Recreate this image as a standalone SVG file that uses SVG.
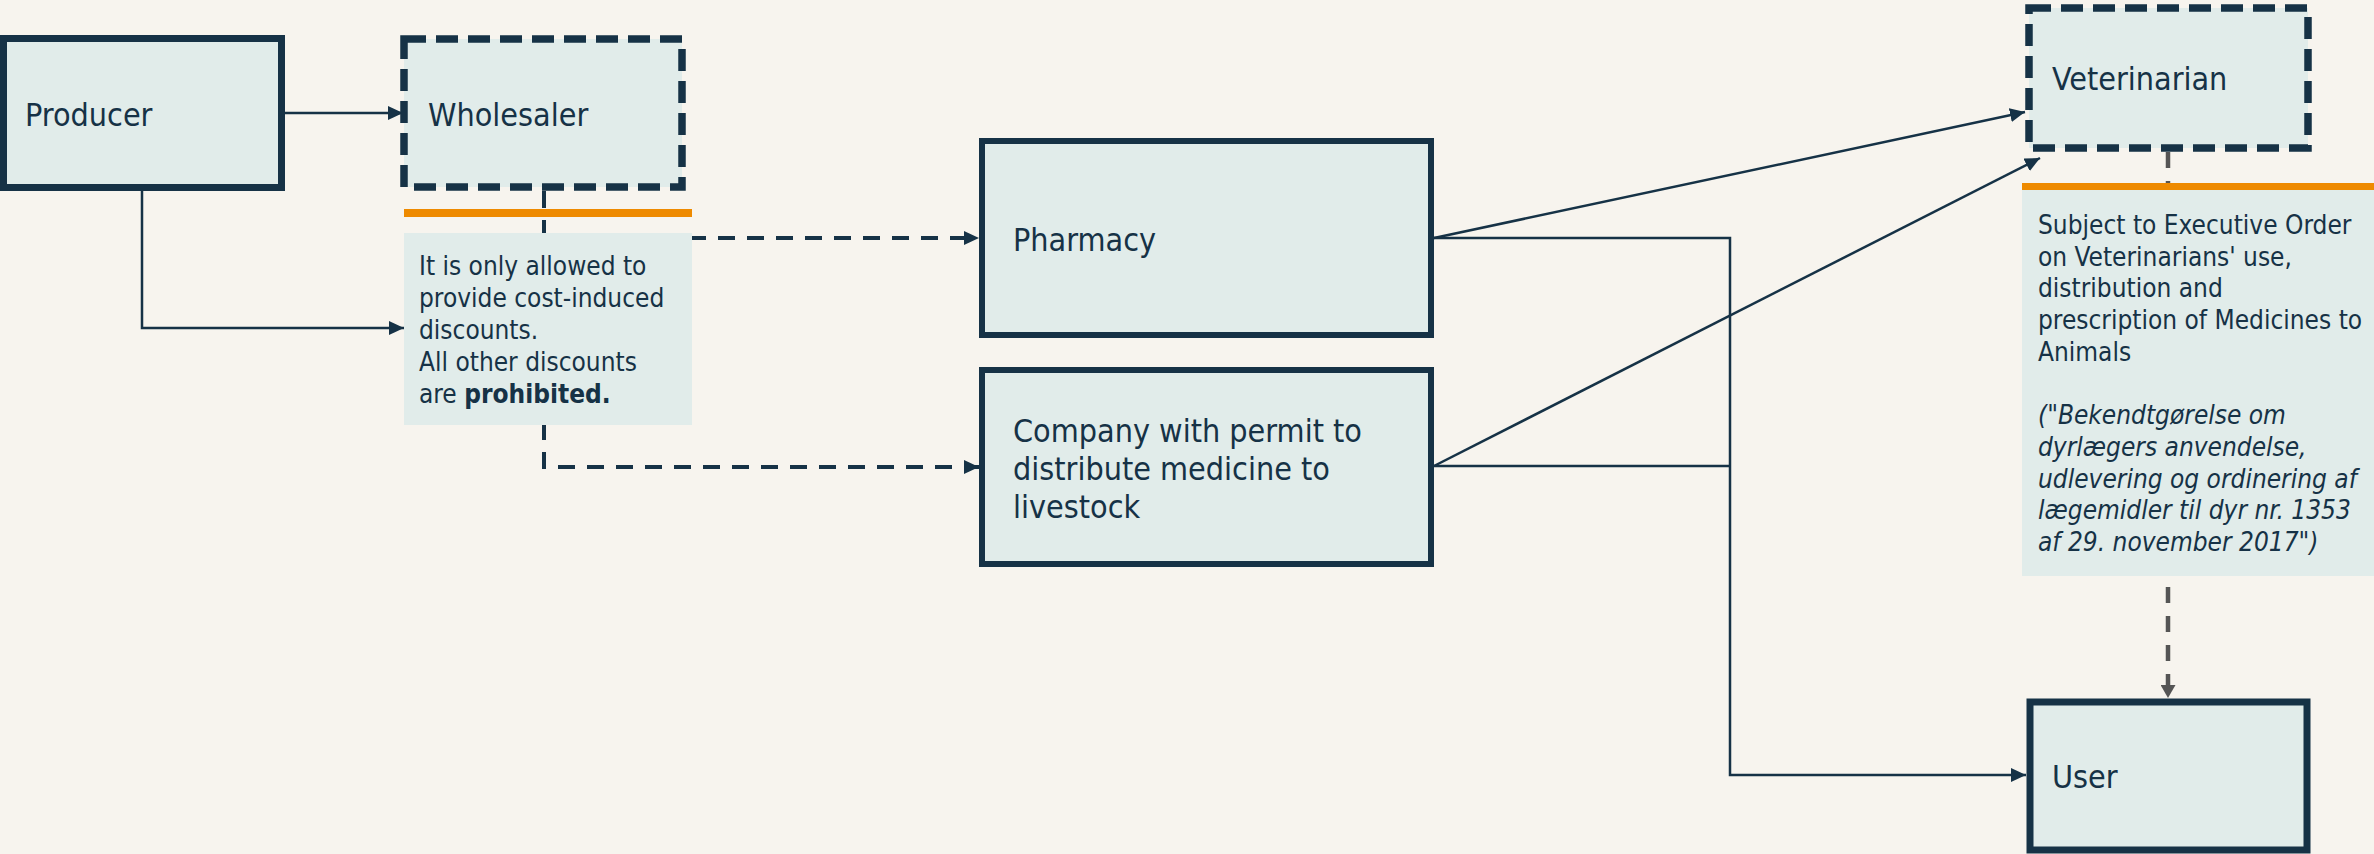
<svg xmlns="http://www.w3.org/2000/svg" width="2374" height="854" viewBox="0 0 2374 854">
<style>
.bg{fill:#f7f4ee}
.box{fill:#e1ecea;stroke:#163246;stroke-width:7}
.thin{fill:#e1ecea;stroke:#163246;stroke-width:6}
.dash{fill:#e1ecea;stroke:#163246;stroke-width:7.5;stroke-dasharray:22 10}
.note{fill:#e1ecea}
.orange{fill:#ee8a00}
.lbl{font-family:"DejaVu Sans Condensed","DejaVu Sans",sans-serif;font-stretch:condensed;font-size:32px;fill:#163246}
.ntxt{font-family:"DejaVu Sans Condensed","DejaVu Sans",sans-serif;font-stretch:condensed;font-size:26px;fill:#163246}
.con{fill:none;stroke:#163246;stroke-width:2.5}
.dcon{fill:none;stroke:#163246;stroke-width:4;stroke-dasharray:17 12}
.gcon{fill:none;stroke:#555555;stroke-width:4.5;stroke-dasharray:16 13}
</style>
<defs>
<marker id="ah" markerUnits="userSpaceOnUse" markerWidth="15" markerHeight="14" refX="15" refY="7" orient="auto"><path d="M0,0 L15,7 L0,14 z" fill="#163246"/></marker>
<marker id="ahg" markerUnits="userSpaceOnUse" markerWidth="13" markerHeight="15" refX="13" refY="7.5" orient="auto"><path d="M0,0 L13,7.5 L0,15 z" fill="#555555"/></marker>
</defs>
<rect class="bg" x="0" y="0" width="2374" height="854"/>
<g id="connectors">
<path class="con" d="M285,113 H403" marker-end="url(#ah)"/>
<path class="con" d="M142,191 V328 H404" marker-end="url(#ah)"/>
<path class="dcon" d="M544,191 V467 H979" marker-end="url(#ah)"/>
<path class="dcon" d="M544,238 H979" marker-end="url(#ah)"/>
<path class="con" d="M1434,238 L2025,112" marker-end="url(#ah)"/>
<path class="con" d="M1434,466 L2040,158" marker-end="url(#ah)"/>
<path class="con" d="M1434,238 H1730 V775 H2026" marker-end="url(#ah)"/>
<path class="con" d="M1434,466 H1730"/>
<path class="gcon" d="M2168,152 V698" marker-end="url(#ahg)"/>
</g>
<g id="producer">
<rect class="box" x="3.5" y="38.5" width="278" height="149"/>
<text class="lbl" x="25" y="126">Producer</text>
</g>
<g id="wholesaler">
<rect class="dash" x="404" y="39" width="278" height="148"/>
<text class="lbl" x="428" y="126">Wholesaler</text>
</g>
<g id="wholesaler-note">
<rect class="orange" x="404" y="209" width="288" height="8"/>
<rect class="note" x="404" y="233" width="288" height="192"/>
<text class="ntxt" x="419" y="275">It is only allowed to</text>
<text class="ntxt" x="419" y="307">provide cost-induced</text>
<text class="ntxt" x="419" y="339">discounts.</text>
<text class="ntxt" x="419" y="371">All other discounts</text>
<text class="ntxt" x="419" y="403">are <tspan font-weight="bold">prohibited.</tspan></text>
</g>
<g id="pharmacy">
<rect class="thin" x="982" y="141" width="449" height="194"/>
<text class="lbl" x="1013" y="251">Pharmacy</text>
</g>
<g id="company">
<rect class="thin" x="982" y="370" width="449" height="194"/>
<text class="lbl" x="1013" y="442">Company with permit to</text>
<text class="lbl" x="1013" y="480">distribute medicine to</text>
<text class="lbl" x="1013" y="518">livestock</text>
</g>
<g id="veterinarian">
<rect class="dash" x="2029" y="8" width="279" height="140"/>
<text class="lbl" x="2052" y="90">Veterinarian</text>
</g>
<g id="veterinarian-note">
<rect class="orange" x="2022" y="183" width="352" height="7.5"/>
<rect class="note" x="2022" y="190" width="352" height="386"/>
<text class="ntxt" x="2038" y="234">Subject to Executive Order</text>
<text class="ntxt" x="2038" y="265.7">on Veterinarians' use,</text>
<text class="ntxt" x="2038" y="297.4">distribution and</text>
<text class="ntxt" x="2038" y="329.1">prescription of Medicines to</text>
<text class="ntxt" x="2038" y="360.8">Animals</text>
<text class="ntxt" x="2038" y="424.2" font-style="italic">("Bekendtgørelse om</text>
<text class="ntxt" x="2038" y="455.9" font-style="italic">dyrlægers anvendelse,</text>
<text class="ntxt" x="2038" y="487.6" font-style="italic">udlevering og ordinering af</text>
<text class="ntxt" x="2038" y="519.3" font-style="italic">lægemidler til dyr nr. 1353</text>
<text class="ntxt" x="2038" y="551" font-style="italic">af 29. november 2017")</text>
</g>
<g id="user">
<rect class="box" x="2030" y="702" width="277" height="148"/>
<text class="lbl" x="2052" y="788">User</text>
</g>
</svg>
